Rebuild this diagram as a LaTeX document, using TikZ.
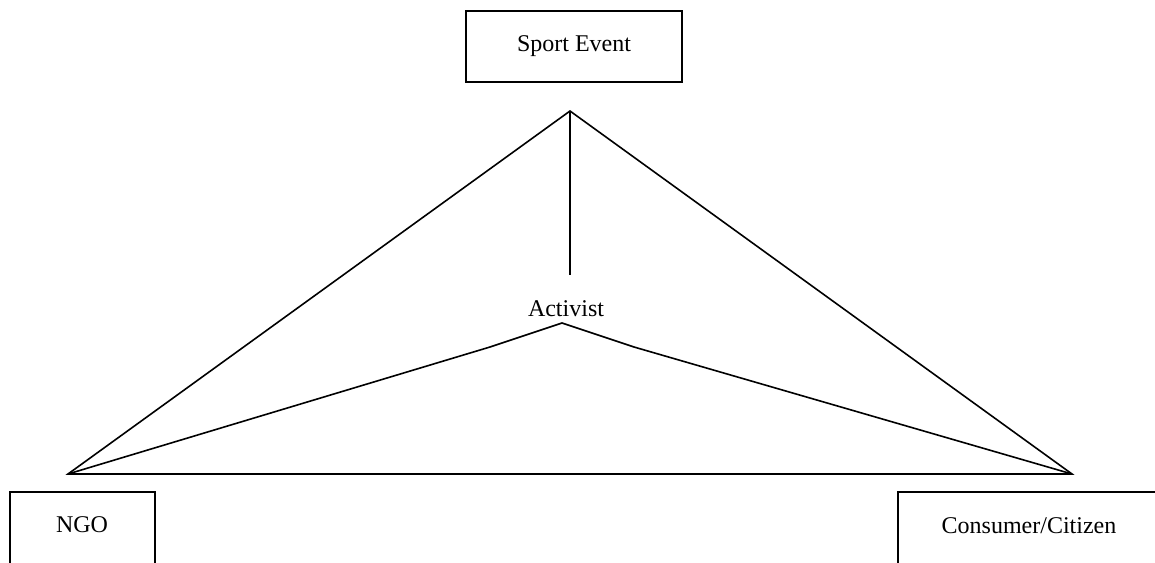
\documentclass[tikz,border=0pt]{standalone}
\usepackage{fontspec}
\setmainfont{Liberation Serif}
\usepackage{xcolor}

\begin{document}
\begin{tikzpicture}[
    x=0.5pt, y=-0.5pt,
    actor/.style={rectangle, draw, line width=0.8pt, inner sep=0pt},
    link/.style={line width=0.8pt, line join=miter},
    label/.style={inner sep=0pt, font=\fontsize{12}{14}\selectfont}
]
\useasboundingbox (0,0) rectangle (1155,562);

\node[actor, minimum width=108pt, minimum height=35.5pt, label] (event) at (574,46.5) {Sport Event};
\node[actor, minimum width=72.5pt, minimum height=60pt, anchor=north west] (ngo) at (9,491) {};
\node[label] (ngotext) at (82,525) {NGO};
\node[actor, minimum width=200pt, minimum height=60pt, anchor=north west] (consumer) at (897,491) {};
\node[label] (consumertext) at (1029,526) {Consumer/Citizen};
\node[label] (activist) at (566,309) {Activist};

\coordinate (apex) at (570,111);
\coordinate (stem) at (570,275);
\coordinate (left) at (68,474);
\coordinate (right) at (1072,474);
\coordinate (peak) at (562,323);
\coordinate (bendl) at (490,347);
\coordinate (bendr) at (634,347);

\draw[link] (left) -- (apex) -- (right) -- cycle;
\draw[link] (apex) -- (stem);
\draw[link] (left) -- (bendl) -- (peak) -- (bendr) -- (right);

\end{tikzpicture}
\end{document}
